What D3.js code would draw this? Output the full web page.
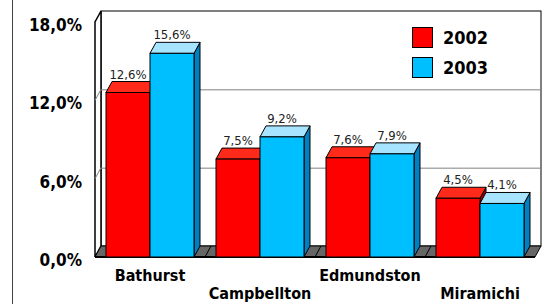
<!DOCTYPE html>
<html>
<head>
<meta charset="utf-8">
<title>Chart</title>
<script src="https://cdnjs.cloudflare.com/ajax/libs/d3/7.8.5/d3.min.js"></script>
<style>
body { margin: 0; background: white; }
text { font-family: "DejaVu Sans Condensed", "DejaVu Sans", sans-serif; }
.tick-label { font-size: 17px; font-weight: bold; }
.cat-label { font-size: 16px; font-weight: bold; }
.val-label { font-size: 13px; }
.legend-label { font-size: 18px; font-weight: bold; }
</style>
</head>
<body>
<svg width="547" height="304"></svg>
<script>
var categories = ["Bathurst", "Campbellton", "Edmundston", "Miramichi"];
var series = ["2002", "2003"];
var values2002 = [12.6, 7.5, 7.6, 4.5];
var values2003 = [15.6, 9.2, 7.9, 4.1];
var yTicks = [0, 6, 12, 18];

var svg = d3.select("svg");
var g = svg.append("g");

// depth of the 3d look
var dx = 6, dy = -11;

var x = d3.scaleBand()
    .domain(categories)
    .range([95, 535])
    .paddingInner(0.2)
    .paddingOuter(0.1);
var xs = d3.scaleBand()
    .domain(series)
    .range([0, x.bandwidth()]);
var y = d3.scaleLinear()
    .domain([0, 18])
    .range([257, 22]);

var front = { "2002": "#ff0000", "2003": "#00bfff" };
var top_ = { "2002": "#ff2a1a", "2003": "#a6e4ff" };
var side = { "2002": "#a00000", "2003": "#0080c0" };

var fmt = function(v) { return d3.format(".1f")(v).replace(".", ",") + "%"; };

// outer frame line on the left
g.append("line")
  .attr("x1", 12.5).attr("x2", 12.5)
  .attr("y1", 0).attr("y2", 304)
  .attr("stroke", "#444");

var x0 = x.range()[0], x1 = x.range()[1];

// back wall
g.append("rect")
  .attr("x", x0 + dx)
  .attr("y", y(18) + dy)
  .attr("width", x1 - x0)
  .attr("height", y(0) - y(18))
  .attr("fill", "white")
  .attr("stroke", "black");

// side wall
g.append("polygon")
  .attr("points", [[x0, y(0)], [x0 + dx, y(0) + dy], [x0 + dx, y(18) + dy], [x0, y(18)]].join(" "))
  .attr("fill", "white")
  .attr("stroke", "black")
  .attr("stroke-width", 1.5);

// gridlines
yTicks.filter(function(t) { return t > 0 && t < 18; }).forEach(function(t) {
  g.append("line")
    .attr("x1", x0 + dx).attr("x2", x1 + dx)
    .attr("y1", y(t) + dy + 0.5).attr("y2", y(t) + dy + 0.5)
    .attr("stroke", "#808080");
  g.append("line")
    .attr("x1", x0).attr("x2", x0 + dx)
    .attr("y1", y(t)).attr("y2", y(t) + dy)
    .attr("stroke", "#808080");
});

// floor
g.append("polygon")
  .attr("points", [[x0, y(0)], [x1, y(0)], [x1 + dx, y(0) + dy], [x0 + dx, y(0) + dy]].join(" "))
  .attr("fill", "#666666")
  .attr("stroke", "black");

// category tick marks on the floor
categories.forEach(function(c, i) {
  if (i == 0) return;
  var bx = x(c) - x.step() * x.paddingInner() / 2;
  g.append("line")
    .attr("x1", bx).attr("x2", bx + dx)
    .attr("y1", y(0)).attr("y2", y(0) + dy)
    .attr("stroke", "black");
});

g.append("line")
  .attr("x1", x0).attr("x2", x1)
  .attr("y1", y(0)).attr("y2", y(0))
  .attr("stroke", "black")
  .attr("stroke-width", 2);

// bars
var rows = [];
categories.forEach(function(c, i) {
  rows.push({ cat: c, s: "2002", v: values2002[i] });
  rows.push({ cat: c, s: "2003", v: values2003[i] });
});

rows.forEach(function(d) {
  var bx = x(d.cat) + xs(d.s);
  var bw = xs.bandwidth();
  var by = y(d.v);
  var b0 = y(0);
  g.append("polygon")
    .attr("points", [[bx + bw, b0], [bx + bw + dx, b0 + dy], [bx + bw + dx, by + dy], [bx + bw, by]].join(" "))
    .attr("fill", side[d.s])
    .attr("stroke", "black");
  g.append("polygon")
    .attr("points", [[bx, by], [bx + bw, by], [bx + bw + dx, by + dy], [bx + dx, by + dy]].join(" "))
    .attr("fill", top_[d.s])
    .attr("stroke", "black");
  g.append("rect")
    .attr("x", bx)
    .attr("y", by)
    .attr("width", bw)
    .attr("height", b0 - by)
    .attr("fill", front[d.s])
    .attr("stroke", "black");
});

// value labels
rows.forEach(function(d) {
  g.append("text")
    .attr("class", "val-label")
    .attr("x", x(d.cat) + xs(d.s) + xs.bandwidth() / 2)
    .attr("y", y(d.v) - 14)
    .attr("text-anchor", "middle")
    .attr("fill", "#222")
    .text(fmt(d.v));
});

// y tick labels
yTicks.forEach(function(t) {
  g.append("text")
    .attr("class", "tick-label")
    .attr("x", 82)
    .attr("y", y(t) + 3)
    .attr("dy", "0.36em")
    .attr("text-anchor", "end")
    .text(fmt(t));
});

// category labels, staggered
categories.forEach(function(c, i) {
  g.append("text")
    .attr("class", "cat-label")
    .attr("x", x(c) + x.bandwidth() / 2)
    .attr("y", i % 2 == 0 ? 281 : 299)
    .attr("text-anchor", "middle")
    .text(c);
});

// legend
series.forEach(function(s, i) {
  g.append("rect")
    .attr("x", 412.5)
    .attr("y", 27.5 + i * 30)
    .attr("width", 20)
    .attr("height", 20)
    .attr("fill", front[s])
    .attr("stroke", "black");
  g.append("text")
    .attr("class", "legend-label")
    .attr("x", 443)
    .attr("y", 37.5 + i * 30)
    .attr("dy", "0.36em")
    .text(s);
});
</script>
</body>
</html>
